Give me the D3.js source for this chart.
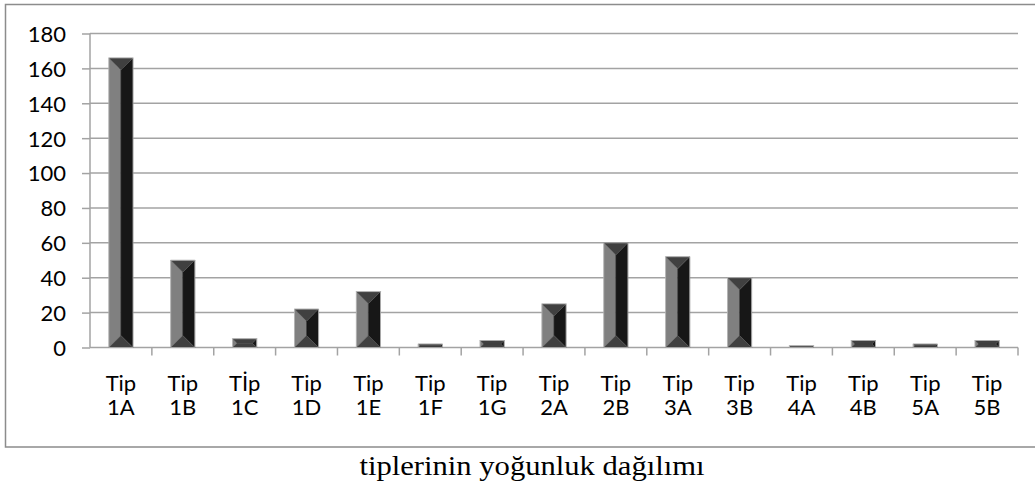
<!DOCTYPE html>
<html>
<head>
<meta charset="utf-8">
<script src="https://cdn.jsdelivr.net/npm/d3@7"></script>
<style>
  body { margin: 0; background: #fff; }
  .tick text { font-family: Lato, "Open Sans", sans-serif; }
</style>
</head>
<body>
<script>
// data
var tipTop = ["Tip", "Tip", "Tİp", "Tip", "Tip", "Tip", "Tip", "Tip", "Tip", "Tip", "Tip", "Tip", "Tip", "Tip", "Tip"];
var tipCodes = ["1A", "1B", "1C", "1D", "1E", "1F", "1G", "2A", "2B", "3A", "3B", "4A", "4B", "5A", "5B"];
var counts = [166, 50, 5, 22, 32, 2, 4, 25, 60, 52, 40, 1, 4, 2, 4];
var yTicks = [0, 20, 40, 60, 80, 100, 120, 140, 160, 180];
var caption = "tiplerinin yoğunluk dağılımı";

var W = 1035, H = 487;
// plot area (window.top is reserved, so other names)
var pLeft = 90, pRight = 1018, pTop = 33.5, pBottom = 347.5;

var svg = d3.select("body").append("svg")
            .attr("width", W)
            .attr("height", H);

// frame around the chart
svg.append("path")
   .attr("d", "M1040,4.5 H5.5 V447 H1040")
   .attr("fill", "none")
   .attr("stroke", "#8c8c8c")
   .attr("stroke-width", 1.5);

var x = d3.scaleBand()
          .domain(tipCodes)
          .range([pLeft, pRight])
          .padding(0);

var y = d3.scaleLinear()
          .domain([0, 180])
          .range([pBottom, pTop]);

// gridlines
svg.append("g")
   .selectAll("line")
   .data(yTicks.filter(d => d > 0))
   .join("line")
   .attr("x1", pLeft).attr("x2", pRight)
   .attr("y1", d => y(d)).attr("y2", d => y(d))
   .attr("stroke", "#a3a3a3")
   .attr("stroke-width", 1.5);

// Y axis
const axeY = d3.axisLeft(y).tickValues(yTicks).tickSize(8).tickPadding(16);
const groupeY = svg.append("g")
   .attr("transform", `translate(${pLeft}, 0)`)
   .call(axeY);
groupeY.selectAll("path, line").attr("stroke", "#a3a3a3").attr("stroke-width", 1.5);
groupeY.select(".domain").attr("d", `M0,${pTop}V${pBottom}`);
groupeY.selectAll("text").style("font-size", "22px").attr("fill", "#000").attr("dy", "0.36em");

// X axis : ticks on the band boundaries
const groupeX = svg.append("g")
   .attr("transform", `translate(0, ${pBottom})`);
groupeX.append("line")
   .attr("x1", pLeft).attr("x2", pRight)
   .attr("stroke", "#a3a3a3").attr("stroke-width", 1.5);
groupeX.selectAll(".xt")
   .data(tipCodes.map(d => x(d)).slice(1).concat([pRight]))
   .join("line")
   .attr("class", "xt")
   .attr("x1", d => d).attr("x2", d => d)
   .attr("y1", 0).attr("y2", 8)
   .attr("stroke", "#a3a3a3").attr("stroke-width", 1.5);

var lab = groupeX.selectAll(".xl")
   .data(tipCodes)
   .join("text")
   .attr("class", "xl")
   .attr("text-anchor", "middle")
   .style("font-family", "Lato, 'Open Sans', sans-serif")
   .style("font-size", "22px")
   .attr("transform", d => `translate(${x(d) + x.bandwidth() / 2}, 0)`);
lab.append("tspan").attr("x", 0).attr("y", 43).text((d, i) => tipTop[i]);
lab.append("tspan").attr("x", 0).attr("y", 67.5).text(d => d);

// bevelled bars
var bw = x.bandwidth() * 0.39;
var bars = svg.append("g")
   .selectAll("g")
   .data(counts)
   .join("g");

function faces(d, i) {
  var cx = x(tipCodes[i]) + x.bandwidth() / 2;
  var x0 = cx - bw / 2, x1 = cx + bw / 2;
  var y0 = y(d), y1 = y(0);
  var b = Math.min(bw / 2, (y1 - y0) / 2);
  return [
    {c: "#808080", p: [[x0, y0], [x0 + b, y0 + b], [x0 + b, y1 - b], [x0, y1]]},
    {c: "#171717", p: [[x1, y0], [x1 - b, y0 + b], [x1 - b, y1 - b], [x1, y1]]},
    {c: "#404040", p: [[x0, y0], [x1, y0], [x1 - b, y0 + b], [x0 + b, y0 + b]]},
    {c: "#404040", p: [[x0, y1], [x1, y1], [x1 - b, y1 - b], [x0 + b, y1 - b]]},
    {c: "#404040", p: [[x0 + b, y0 + b], [x1 - b, y0 + b], [x1 - b, y1 - b], [x0 + b, y1 - b]]}
  ];
}

bars.each(function(d, i) {
  var g = d3.select(this);
  g.selectAll("path.f")
   .data(faces(d, i))
   .join("path")
   .attr("class", "f")
   .attr("d", f => "M" + f.p.join("L") + "Z")
   .attr("fill", f => f.c)
   .attr("stroke", f => f.c)
   .attr("stroke-width", 0.3);
  var cx = x(tipCodes[i]) + x.bandwidth() / 2;
  g.append("rect")
   .attr("x", cx - bw / 2).attr("y", y(d))
   .attr("width", bw).attr("height", y(0) - y(d))
   .attr("fill", "none")
   .attr("stroke", "#b5b5b5")
   .attr("stroke-width", 0.8);
});

// caption under the frame
svg.append("text")
   .attr("x", 532)
   .attr("y", 475)
   .attr("text-anchor", "middle")
   .attr("textLength", 345)
   .attr("lengthAdjust", "spacingAndGlyphs")
   .style("font-family", "'Liberation Serif', 'Times New Roman', serif")
   .style("font-size", "28px")
   .text(caption);
</script>
</body>
</html>
